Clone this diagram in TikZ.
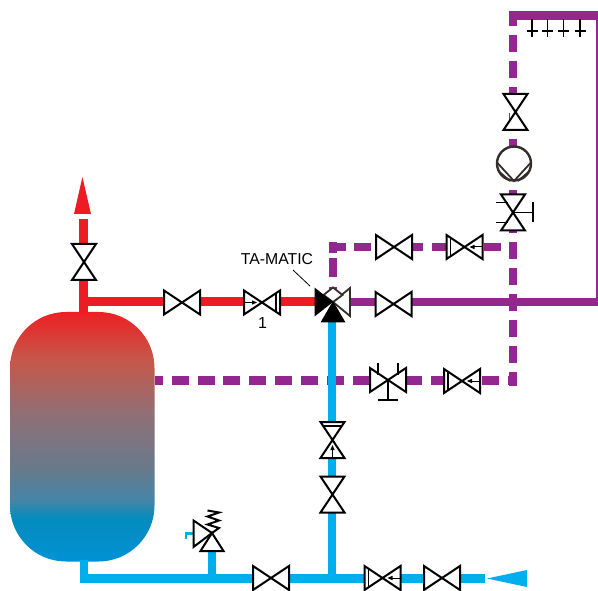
\documentclass[tikz,border=0pt]{standalone}
\usepackage{fontspec}
\setmainfont{Liberation Sans}
\definecolor{hotred}{HTML}{ED1C24}
\definecolor{mixpurple}{HTML}{92278F}
\definecolor{coldblue}{HTML}{00AEEF}
\definecolor{tanktop}{HTML}{ED2024}
\definecolor{tankb}{HTML}{C5584A}
\definecolor{tankc}{HTML}{8F7076}
\definecolor{tankd}{HTML}{667A8C}
\definecolor{tanke}{HTML}{4585A8}
\definecolor{tankmid}{HTML}{058CBD}
\definecolor{tankbot}{HTML}{0091D5}
\definecolor{darkgrey}{HTML}{332E2B}
\pgfdeclareverticalshading{tankshade}{100bp}{color(0bp)=(tankbot); color(25bp)=(tankbot); color(33.8bp)=(tankmid); color(37.2bp)=(tanke); color(43.3bp)=(tankd); color(54.3bp)=(tankc); color(65.4bp)=(tankb); color(75bp)=(tanktop); color(100bp)=(tanktop)}
\tikzset{
  vline/.style={draw=black,line width=2pt,line join=miter},
  redpipe/.style={draw=hotred,line width=9pt},
  bluepipe/.style={draw=coldblue,line width=8.8pt},
  purplepipe/.style={draw=mixpurple,line width=8.8pt},
  purpledash/.style={draw=mixpurple,line width=8.8pt,dash pattern=on 17pt off 8.9pt},
  bowtie/.pic={
    \fill[white] (-18,-5.5) rectangle (18,5.5);
    \draw[vline,fill=white] (-18,-12)--(0,0)--(-18,12)--cycle;
    \draw[vline,fill=white] (18,-12)--(0,0)--(18,12)--cycle;},
  checkvalve/.pic={
    \fill[white] (-18,-5.5) rectangle (18,5.5);
    \draw[vline,fill=white] (-18,-12)--(0,0)--(-18,12)--cycle;
    \draw[vline,fill=white] (18,-12)--(0,0)--(18,12)--cycle;
    \draw[black,line width=1.3pt] (14,-9.3)--(14,9.3);
    \draw[black,line width=1pt] (-17,0)--(-9,0);
    \fill[black] (-5,0)--(-10,-2.2)--(-10,2.2)--cycle;},
  handvalve/.pic={
    \fill[white] (-18,-5.5) rectangle (18,5.5);
    \draw[vline,fill=white] (-18,-12)--(0,0)--(-18,12)--cycle;
    \draw[vline,fill=white] (18,-12)--(0,0)--(18,12)--cycle;
    \draw[black,line width=1.7pt] (-10,-17)--(-10,-5) (10,-17)--(10,-5) (0,0)--(0,20) (-10,20)--(10,20);},
  plusmark/.pic={\draw[black,line width=1.8pt] (0,-12)--(0,6) (-5.5,0)--(5.5,0);},
}
\begin{document}
\begin{tikzpicture}[x=1pt,y=-1pt]
\useasboundingbox (0,0) rectangle (598,591);
% --- coordinates
\coordinate (tanktee) at (83.5,301.5);
\coordinate (tankout) at (83.5,314);
\coordinate (arrowbase) at (83.5,219);
\coordinate (mixer) at (333,302);
\coordinate (mixleft) at (315,301.5);
\coordinate (mixright) at (350,302);
\coordinate (supplyend) at (598,302);
\coordinate (risertop) at (513,11);
\coordinate (riserbot) at (513,385.5);
\coordinate (topleft) at (509,15.5);
\coordinate (topright) at (598,15.5);
\coordinate (railtop) at (597,15.5);
\coordinate (railbot) at (597,302);
\coordinate (bypassleft) at (328.5,247);
\coordinate (bypassright) at (513,247);
\coordinate (bypassup) at (333,242.5);
\coordinate (bypassdown) at (333,302);
\coordinate (returnleft) at (155,380.5);
\coordinate (returnright) at (513,380.5);
\coordinate (coldin) at (485,578.5);
\coordinate (coldcorner) at (84,578.5);
\coordinate (coldtank) at (84,560);
\coordinate (coldtee) at (332,578.5);
\coordinate (coldtop) at (332,312);
\coordinate (safetytee) at (212,578.5);
\coordinate (safetytop) at (212,550);
\coordinate (safetyvalve) at (212,533);
% valves
\coordinate (vA) at (84,262);
\coordinate (vB) at (182,302.5);
\coordinate (vC) at (262,302.5);
\coordinate (vD) at (393.5,304);
\coordinate (vE) at (394,247);
\coordinate (vF) at (464.5,247);
\coordinate (vG) at (388,380);
\coordinate (vH) at (462,381);
\coordinate (vI) at (515.5,112);
\coordinate (vJ) at (513,212.5);
\coordinate (vK) at (332.5,440);
\coordinate (vL) at (332.5,494.5);
\coordinate (vM) at (271,578);
\coordinate (vN) at (382.5,578);
\coordinate (vO) at (442,578);
\coordinate (pump) at (514,163.5);
% --- tank
\shade[shading=tankshade,rounded corners=56pt] (10,312) rectangle (154.5,561.5);
% --- hot pipes
\draw[redpipe] (arrowbase)--(tankout);
\draw[redpipe] (tanktee)--(mixleft);
\fill[hotred] (82.4,177)--(91,214)--(74,214)--cycle;
% --- purple
\draw[purplepipe] (mixright)--(supplyend);
\draw[purplepipe] (topleft)--(topright);
\draw[mixpurple,line width=1.8pt] (railtop)--(railbot);
\draw[purpledash,dash phase=1.9pt] (risertop)--(riserbot);
\draw[purpledash] (bypassleft)--(bypassright);
\draw[purplepipe,dash pattern=on 11pt off 5pt on 19pt off 10pt on 20pt] (bypassup)--(bypassdown);
\draw[purpledash,dash phase=9.3pt] (returnleft)--(returnright);
% --- cold pipes
\draw[bluepipe] (coldtank)--(coldcorner)--(coldin);
\draw[bluepipe] (coldtee)--(coldtop);
\draw[bluepipe,line width=8pt] (safetytee)--(safetytop);
\fill[coldblue] (487,578.5)--(527,570)--(527,587)--cycle;
% --- valves
\pic[rotate=90] at (vA) {bowtie};
\pic at (vB) {bowtie};
\pic at (vC) {checkvalve};
\pic at (vD) {bowtie};
\pic at (vE) {bowtie};
\pic[rotate=180] at (vF) {checkvalve};
\pic at (vG) {handvalve};
\pic[rotate=180] at (vH) {checkvalve};
\pic[rotate=90] at (vI) {bowtie};
\pic[rotate=90] at (vJ) {handvalve};
\pic[rotate=90] at (vK) {checkvalve};
\pic[rotate=90] at (vL) {bowtie};
\pic at (vM) {bowtie};
\pic[rotate=180] at (vN) {checkvalve};
\pic at (vO) {bowtie};
% --- pump
\draw[darkgrey,line width=2.4pt,fill=white] (pump) circle (17pt);
\draw[darkgrey,line width=1.8pt] (497.5,163)--(514,181)--(530.5,163);
\draw[darkgrey,line width=1.8pt] (499.5,172)--(510,181) (528.5,172)--(518,181);
% --- three-way mixing valve
\draw[darkgrey,line width=1.8pt,fill=white] (mixer)--(350,288)--(350,316)--cycle;
\draw[darkgrey,line width=1.8pt,fill=white] (mixer)--(323.5,295)--(333,287.5)--(342.5,295)--cycle;
\fill[black] (314.5,287.5)--(333,302)--(314.5,316.5)--cycle;
\fill[black] (333,301)--(345.5,322.5)--(320.5,322.5)--cycle;
% --- safety valve
\draw[coldblue,line width=2.4pt] (186,538.5)--(186,533.5)--(193,533.5);
\draw[vline,fill=white] (safetyvalve)--(223.5,551)--(200.5,551)--cycle;
\draw[vline,fill=white] (safetyvalve)--(193.5,547)--(193.5,520.5)--cycle;
\draw[black,line width=2pt] (safetyvalve)--(219,528)--(207.5,524.5)--(219,520.5)--(207.5,516.5)--(219,512.5)--(207.5,510.5);
% --- consumers
\pic at (532,31) {plusmark};
\pic at (547.5,31) {plusmark};
\pic at (563.5,31) {plusmark};
\pic at (580,31) {plusmark};
% --- labels
\node[font=\fontsize{15.8pt}{18pt}\selectfont,inner sep=0pt] (lblmatic) at (277,259) {TA-MATIC};
\node[font=\fontsize{16pt}{18pt}\selectfont,inner sep=0pt] (lblone) at (262.5,323) {1};
\coordinate (leaderend) at (310,286);
\draw[black,line width=0.8pt] (293,270)--(leaderend);
\end{tikzpicture}
\end{document}
